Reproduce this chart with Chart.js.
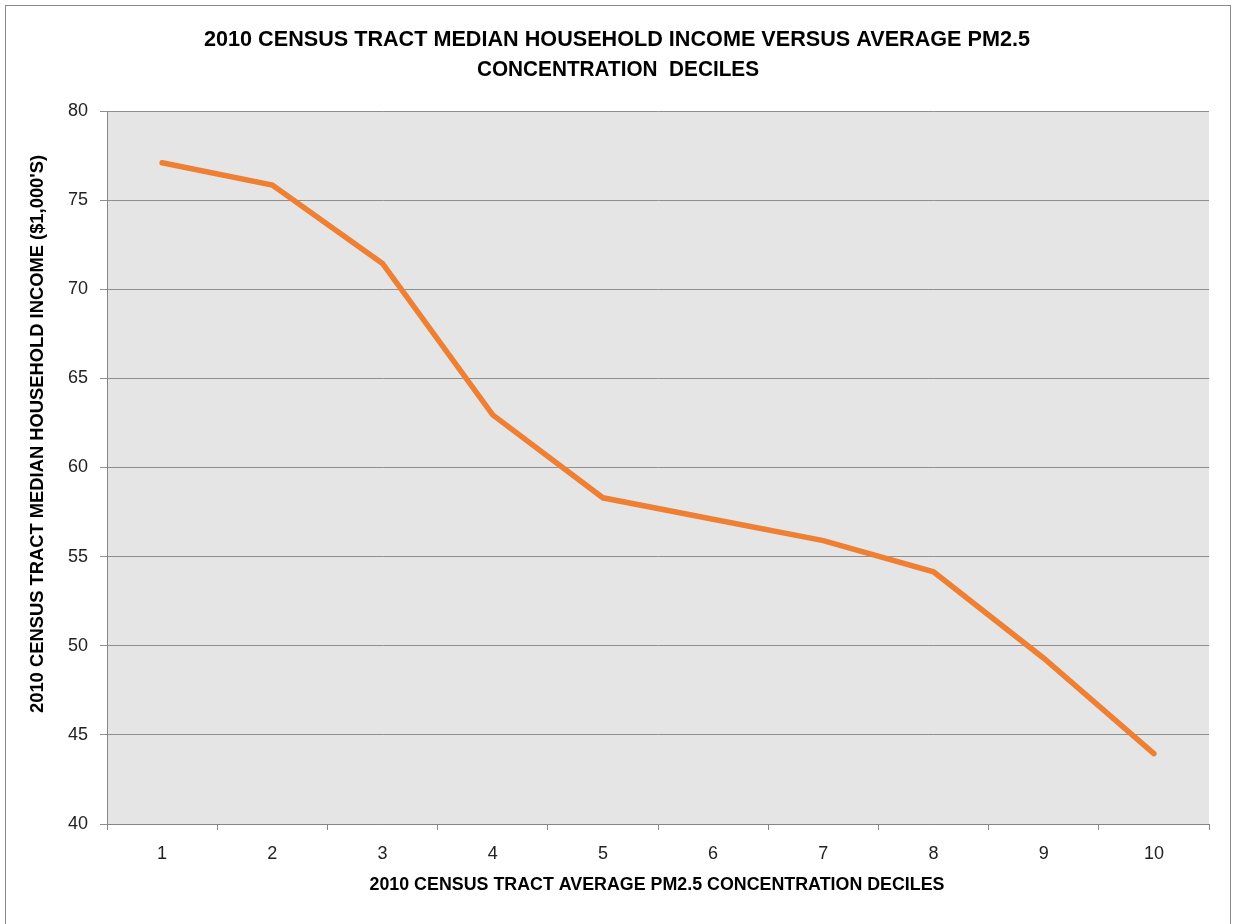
<!DOCTYPE html>
<html>
<head>
<meta charset="utf-8">
<title>Median Household Income vs PM2.5 Deciles</title>
<script src="https://cdn.jsdelivr.net/npm/chart.js@4.4.1/dist/chart.umd.min.js"></script>
<style>
    html, body { margin: 0; padding: 0; background: #ffffff; }
    #wrap { width: 1233px; height: 924px; position: relative; }
</style>
</head>
<body>
<div id="wrap"><canvas id="incomeChart"></canvas></div>
<script>
// deciles on the x axis, median income in thousands of dollars
const deciles = ['1', '2', '3', '4', '5', '6', '7', '8', '9', '10'];
const medianIncome = [77.1, 75.85, 71.45, 62.95, 58.3, 57.1, 55.9, 54.15, 49.3, 43.95];
const yTicks = [40, 45, 50, 55, 60, 65, 70, 75, 80];

const titleLines = ['2010 CENSUS TRACT MEDIAN HOUSEHOLD INCOME VERSUS AVERAGE PM2.5', 'CONCENTRATION  DECILES'];
const xTitle = '2010 CENSUS TRACT AVERAGE PM2.5 CONCENTRATION DECILES';
const yTitle = "2010 CENSUS TRACT MEDIAN HOUSEHOLD INCOME ($1,000'S)";

const FONT = '"Liberation Sans", Arial, sans-serif';

// squeeze a line of text so it is no wider than maxWidth (narrow Calibri look)
function fitText(ctx, text, x, y, maxWidth) {
    const w = ctx.measureText(text).width;
    const sx = w > maxWidth ? maxWidth / w : 1;
    ctx.save();
    ctx.translate(x, y);
    ctx.scale(sx, 1);
    ctx.fillText(text, 0, 0);
    ctx.restore();
}

const frame = {
    id: 'frame',
    beforeDraw(chart) {
        const { ctx, chartArea: a } = chart;
        ctx.save();
        ctx.fillStyle = '#e5e5e5';
        ctx.fillRect(a.left, a.top, a.right - a.left, a.bottom - a.top);
        ctx.strokeStyle = '#8a8a8a';
        ctx.lineWidth = 1;
        ctx.strokeRect(5.5, 5.5, 1225, 930);
        ctx.restore();
    },
    afterDraw(chart) {
        const { ctx } = chart;
        ctx.save();
        ctx.fillStyle = '#000000';
        ctx.textAlign = 'center';
        ctx.textBaseline = 'middle';

        ctx.font = 'bold 22px ' + FONT;
        fitText(ctx, titleLines[0], 617, 40, 826);
        fitText(ctx, titleLines[1], 618, 70, 282);

        ctx.font = 'bold 18px ' + FONT;
        fitText(ctx, xTitle, 657, 885, 575);

        ctx.translate(38, 434);
        ctx.rotate(-Math.PI / 2);
        ctx.font = 'bold 19px ' + FONT;
        fitText(ctx, yTitle, 0, 0, 558);
        ctx.restore();
    }
};

const ctx = document.getElementById('incomeChart').getContext('2d');
const incomeChart = new Chart(ctx, {
    type: 'line',
    data: {
        labels: deciles,
        datasets: [{
            label: 'Median household income',
            data: medianIncome,
            borderColor: '#ee7f33',
            borderWidth: 5.5,
            borderCapStyle: 'round',
            pointRadius: 0,
            tension: 0,
            fill: false
        }]
    },
    options: {
        responsive: true,
        maintainAspectRatio: false,
        animation: false,
        layout: { padding: { top: 111, right: 24, left: 0, bottom: 0 } },
        plugins: {
            legend: { display: false },
            tooltip: { enabled: false }
        },
        scales: {
            x: {
                offset: true,
                afterFit(scale) { scale.height = 100; },
                grid: {
                    offset: true,
                    drawOnChartArea: false,
                    drawTicks: true,
                    tickLength: 6,
                    color: '#868686'
                },
                border: { color: '#868686', width: 1 },
                ticks: {
                    color: '#222222',
                    padding: 13,
                    font: { family: FONT, size: 18 }
                }
            },
            y: {
                min: 40,
                max: 80,
                afterFit(scale) { scale.width = 107; },
                afterBuildTicks(scale) { scale.ticks = yTicks.map(v => ({ value: v })); },
                grid: {
                    color: '#8f8f8f',
                    tickLength: 7,
                    drawTicks: true
                },
                border: { color: '#868686', width: 1 },
                ticks: {
                    color: '#222222',
                    padding: 12,
                    font: { family: FONT, size: 18 }
                }
            }
        }
    },
    plugins: [frame]
});
</script>
</body>
</html>
